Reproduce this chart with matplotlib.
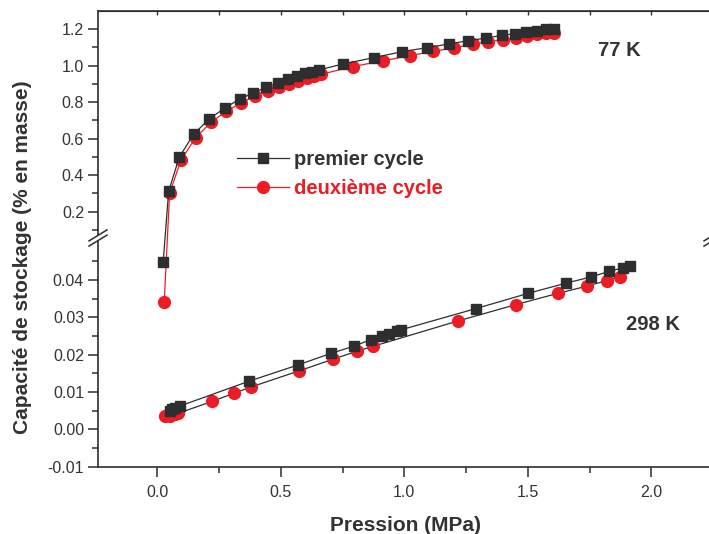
import matplotlib
matplotlib.use('Agg')
import matplotlib.pyplot as plt
import numpy as np
from matplotlib.lines import Line2D
from matplotlib.patches import Polygon

plt.rcParams['font.family'] = ['Liberation Sans', 'DejaVu Sans']

# 77 K - premier cycle / deuxieme cycle
p77_1 = [0.024, 0.046, 0.089, 0.148, 0.211, 0.275, 0.335, 0.389, 0.44, 0.487, 0.528, 0.565, 0.599, 0.626,
         0.653, 0.75, 0.877, 0.991, 1.093, 1.18, 1.259, 1.331, 1.395, 1.447, 1.494, 1.537, 1.573, 1.607]
c77_1 = [0.0449, 0.311, 0.498, 0.626, 0.708, 0.770, 0.817, 0.852, 0.881, 0.905, 0.925, 0.944, 0.958, 0.967,
         0.976, 1.009, 1.044, 1.077, 1.099, 1.119, 1.137, 1.152, 1.166, 1.175, 1.185, 1.193, 1.199, 1.204]
p77_2 = [0.028, 0.050, 0.096, 0.155, 0.217, 0.279, 0.340, 0.394, 0.447, 0.493, 0.534, 0.571, 0.606, 0.636,
         0.661, 0.792, 0.914, 1.022, 1.116, 1.202, 1.277, 1.341, 1.401, 1.451, 1.498, 1.538, 1.575, 1.607]
c77_2 = [0.034, 0.300, 0.483, 0.604, 0.689, 0.750, 0.796, 0.832, 0.859, 0.881, 0.900, 0.916, 0.933, 0.944,
         0.952, 0.995, 1.027, 1.055, 1.078, 1.099, 1.117, 1.132, 1.142, 1.153, 1.163, 1.172, 1.179, 1.182]

# 298 K
p298_1 = [0.05, 0.06, 0.07, 0.09, 0.372, 0.568, 0.702, 0.798, 0.864, 0.908, 0.940, 0.970, 0.985,
          1.289, 1.502, 1.653, 1.757, 1.83, 1.884, 1.915]
c298_1 = [0.0050, 0.0054, 0.0058, 0.0062, 0.0129, 0.0172, 0.0203, 0.0223, 0.0240, 0.0249, 0.0256, 0.0262, 0.0266,
          0.0323, 0.0364, 0.0391, 0.0408, 0.0423, 0.0432, 0.0437]
p298_2 = [0.03, 0.05, 0.07, 0.085, 0.223, 0.312, 0.378, 0.572, 0.713, 0.808, 0.873, 1.217, 1.453, 1.622,
          1.738, 1.819, 1.874]
c298_2 = [0.0035, 0.0037, 0.0040, 0.0043, 0.0075, 0.0097, 0.0113, 0.0156, 0.0188, 0.0209, 0.0222, 0.0290,
          0.0334, 0.0364, 0.0383, 0.0398, 0.0409]

yticks = [-0.01, 0.0, 0.01, 0.02, 0.03, 0.04, 0.2, 0.4, 0.6, 0.8, 1.0, 1.2]
ylabels = ['-0.01', '0.00', '0.01', '0.02', '0.03', '0.04', '0.2', '0.4', '0.6', '0.8', '1.0', '1.2']
yminor = [-0.005, 0.005, 0.015, 0.025, 0.035, 0.045, 0.1, 0.3, 0.5, 0.7, 0.9, 1.1]

BLK = '#2e2e30'
RED = '#ec1c24'

# broken y axis: [-0.01, 0.05] below, [0.03, 1.3] above
LO, BRK, HI0 = -0.01, 0.05, 0.03
K_LO, K_HI = 3730.0, 182.0
P_BRK = (BRK - LO) * K_LO


def fwd(y):
    y = np.asarray(y, dtype=float)
    return np.where(y <= BRK, (y - LO) * K_LO, P_BRK + (y - HI0) * K_HI)


def inv(p):
    p = np.asarray(p, dtype=float)
    return np.where(p <= P_BRK, p / K_LO + LO, (p - P_BRK) / K_HI + HI0)


W, H = 709, 534
fig = plt.figure(figsize=(W / 100, H / 100), dpi=100)
ax = fig.add_axes([98 / W, 1 - 466.7 / H, (713 - 98) / W, (466.7 - 11) / H])
ax.set_yscale('function', functions=(fwd, inv))
ax.set_xlim(-0.24, 2.25)
ax.set_ylim(-0.01, 1.3)

ax.plot(p298_2, c298_2, '-', color=BLK, lw=0.9, marker='o', ms=8.5, mfc=RED, mec=RED, zorder=3)
ax.plot(p298_1, c298_1, '-', color=BLK, lw=0.9, marker='s', ms=7.5, mfc=BLK, mec=BLK, zorder=4)
ax.plot(p77_2, c77_2, '-', color=RED, lw=0.9, marker='o', ms=8.5, mfc=RED, mec=RED, zorder=3)
ax.plot(p77_1, c77_1, '-', color=BLK, lw=0.9, marker='s', ms=7.5, mfc=BLK, mec=BLK, zorder=4)

ax.set_yticks(yticks, labels=ylabels)
ax.set_yticks(yminor, minor=True)
ax.set_xticks([0.0, 0.5, 1.0, 1.5, 2.0], labels=['0.0', '0.5', '1.0', '1.5', '2.0'])
ax.set_xticks([0.25, 0.75, 1.25, 1.75, 2.25], minor=True)
ax.tick_params(which='major', direction='out', length=7, width=1.1, color=BLK,
               labelsize=11.5, labelcolor='#333333', pad=3)
ax.tick_params(axis='x', which='major', pad=6)
ax.tick_params(which='minor', direction='out', length=4, width=1.1, color=BLK)
for s in ax.spines.values():
    s.set_color(BLK)
    s.set_linewidth(1.2)

sec = ax.secondary_xaxis('top')
sec.set_xticks(np.arange(0, 2.26, 0.25))
sec.tick_params(direction='in', length=3, width=1, color=BLK, labeltop=False)
sec.spines['top'].set_color(BLK)

ax.set_xlabel('Pression (MPa)', fontsize=15, fontweight='bold', color='#333333', labelpad=12)
ax.set_ylabel('Capacité de stockage (% en masse)', fontsize=15, fontweight='bold', color='#333333')
ax.yaxis.set_label_coords(-0.107, 0.46)

ax.text(1.87, 1.085, '77 K', fontsize=14.5, fontweight='bold', color='#333333', ha='center', va='center')
ax.text(2.008, 0.0280, '298 K', fontsize=14.5, fontweight='bold', color='#333333', ha='center', va='center')

handles = [Line2D([], [], color=BLK, lw=0.9, marker='s', ms=7.5, mfc=BLK, mec=BLK),
           Line2D([], [], color=RED, lw=0.9, marker='o', ms=8.5, mfc=RED, mec=RED)]
leg = ax.legend(handles, ['premier cycle', 'deuxième cycle'], loc='upper left',
                bbox_to_anchor=(237 / W, 1 - 150 / H), bbox_transform=fig.transFigure,
                frameon=False, borderpad=0, borderaxespad=0, handlelength=2.6, handletextpad=0.25,
                labelspacing=0.5, prop={'size': 14.5, 'weight': 'bold'})
leg.get_texts()[0].set_color('#333333')
leg.get_texts()[1].set_color(RED)

# break marks on both spines
yb = 1 - 238 / H
for xs in (98 / W, 713 / W):
    dx, dy, g = 9 / W, 5.5 / H, 2.6 / H
    gap = Polygon([(xs - dx, yb - dy - g), (xs + dx, yb + dy - g), (xs + dx, yb + dy + g), (xs - dx, yb - dy + g)],
                  closed=True, transform=fig.transFigure, fc='white', ec='none', zorder=10)
    fig.add_artist(gap)
    for off in (-g, g):
        fig.add_artist(Line2D([xs - dx, xs + dx], [yb - dy + off, yb + dy + off], color=BLK, lw=1.1,
                              transform=fig.transFigure, zorder=11))

fig.savefig('out.png', dpi=100)
